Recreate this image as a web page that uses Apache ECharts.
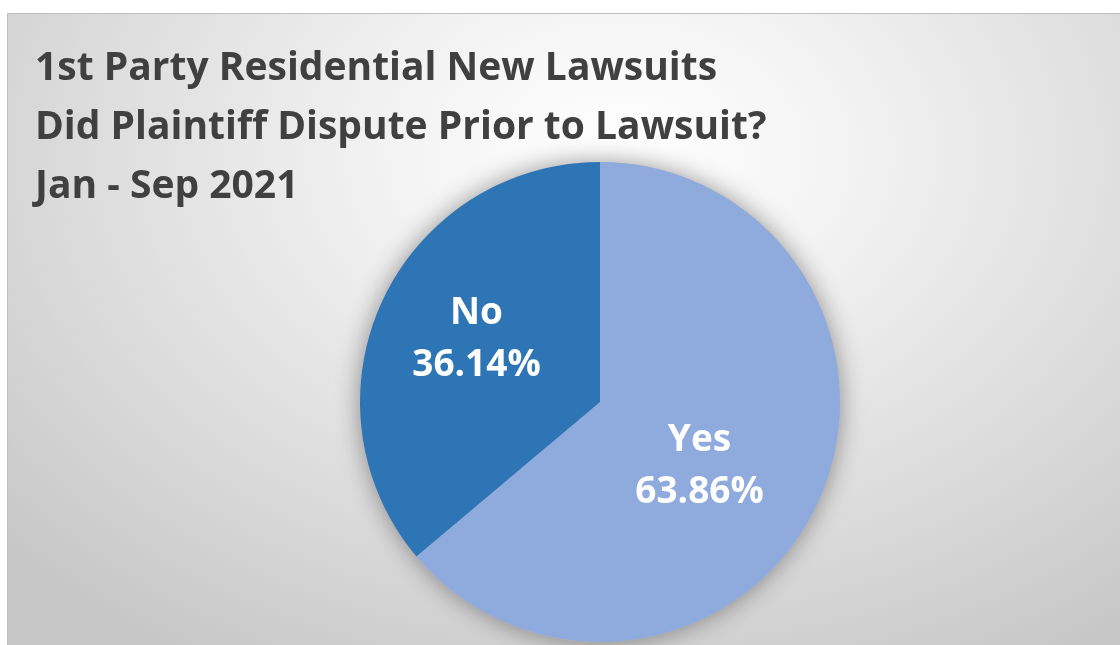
<!DOCTYPE html>
<html>
<head>
<meta charset="utf-8">
<script src="https://cdn.jsdelivr.net/npm/echarts@6/dist/echarts.min.js"></script>
<style>
  html, body { margin: 0; padding: 0; background: #ffffff; }
  .wrap { position: relative; width: 1120px; height: 645px; overflow: hidden; }
  /* chart area with the office-style radial fill */
  #chart {
    position: absolute;
    left: 7px;
    top: 13px;
    width: 1113px;
    height: 632px;
    border-top: 1px solid #bfbfbf;
    border-left: 1px solid #bfbfbf;
    box-sizing: border-box;
    background: radial-gradient(ellipse 75% 95% at 55% 22%, #ffffff 0%, #f4f4f4 25%, #dcdcdc 65%, #c6c6c6 100%);
  }
</style>
</head>
<body>
<div class="wrap">
  <div id="chart"></div>
</div>
<script>
// data
const titleLines = ['1st Party Residential New Lawsuits', 'Did Plaintiff Dispute Prior to Lawsuit?', 'Jan - Sep 2021']
const categories = ['Yes', 'No']
const percents = [63.86, 36.14]
const colors = ['#8faadc', '#2e75b6']

// spacer lines push the inside labels up/down a bit, like the original
const spaceBefore = [26, 0]
const spaceAfter = [0, 22]

const chart = echarts.init(document.getElementById('chart'))

const labelFormatter = p => {
  const i = p.dataIndex
  let s = p.name + '\n' + p.value.toFixed(2) + '%'
  s = '{t|' + s.split('\n').join('}\n{t|') + '}'
  if (spaceBefore[i]) s = '{a| }\n' + s
  if (spaceAfter[i]) s = s + '\n{b| }'
  return s
}

const option = {
  animation: false,
  title: {
    text: titleLines.join('\n'),
    left: 22,
    top: 20,
    textStyle: {
      fontFamily: 'Open Sans',
      fontWeight: 'bold',
      fontSize: 39,
      lineHeight: 59,
      color: '#404040'
    }
  },
  series: [
    {
      // soft shadow disc under the pie
      type: 'pie',
      silent: true,
      center: [592, 388],
      radius: 240,
      z: 1,
      label: { show: false },
      labelLine: { show: false },
      data: [{ value: percents.reduce((a, b) => a + b, 0), name: '' }],
      itemStyle: {
        color: '#bdbdbd',
        shadowBlur: 24,
        shadowColor: 'rgba(0, 0, 0, 0.4)'
      }
    },
    {
      type: 'pie',
      center: [592, 388],
      radius: 240,
      startAngle: 90,
      clockwise: true,
      z: 2,
      itemStyle: { borderWidth: 0 },
      label: {
        show: true,
        position: 'inside',
        formatter: labelFormatter,
        padding: [0, 24, 0, 0],
        rich: {
          t: {
            color: '#ffffff',
            fontFamily: 'Open Sans',
            fontWeight: 'bold',
            fontSize: 37,
            lineHeight: 52
          },
          a: { fontSize: 1, lineHeight: spaceBefore[0] },
          b: { fontSize: 1, lineHeight: spaceAfter[1] }
        }
      },
      labelLine: { show: false },
      data: categories.map((c, i) => ({
        name: c,
        value: percents[i],
        itemStyle: { color: colors[i] }
      }))
    }
  ]
}

chart.setOption(option)
</script>
</body>
</html>
